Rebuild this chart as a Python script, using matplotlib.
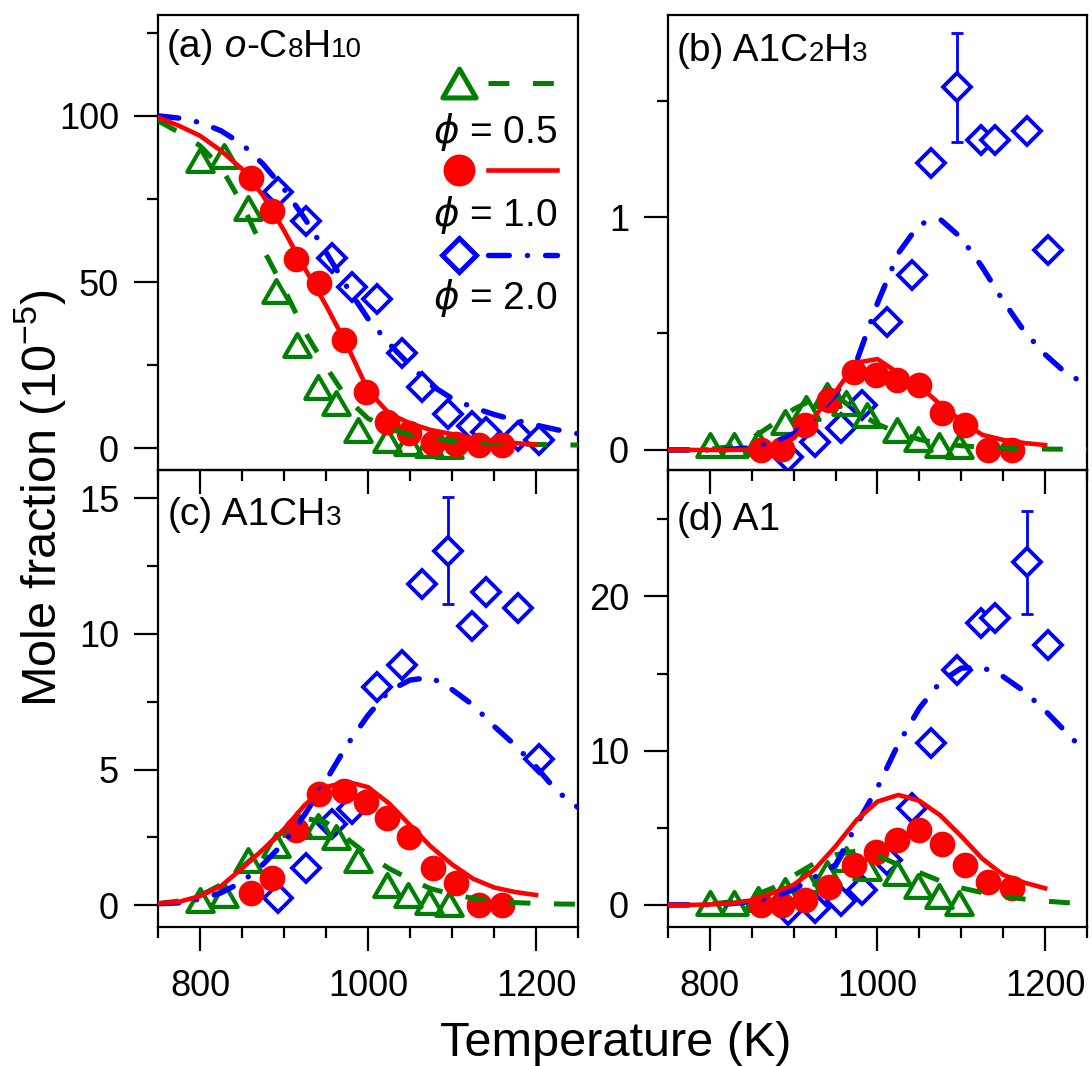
import matplotlib
matplotlib.use("Agg")
import matplotlib.pyplot as plt
from matplotlib.lines import Line2D
from matplotlib.path import Path
from matplotlib.legend import Legend
from matplotlib.legend_handler import HandlerBase
from matplotlib.offsetbox import TextArea, HPacker, AnchoredOffsetbox
from matplotlib.ticker import MultipleLocator, FormatStrFormatter

plt.rcParams['font.family'] = ['Liberation Sans', 'DejaVu Sans']
plt.rcParams['lines.scale_dashes'] = False
plt.rcParams['mathtext.fontset'] = 'dejavusans'

# ---------------- data ----------------
# measurement temperatures (K)
T_green = [800, 829, 857, 890, 915, 940, 962, 988, 1023, 1048, 1073, 1097]   # phi = 0.5
T_red = [861, 886, 914, 942, 972, 998, 1023, 1049, 1077, 1105, 1132, 1160]     # phi = 1.0
T_blue = [893, 926, 957, 981, 1011, 1041, 1064, 1095, 1124, 1140, 1178, 1203]  # phi = 2.0

# model temperatures (K)
T_model = [750, 775, 800, 825, 850, 875, 900, 925, 950, 975, 1000,
           1025, 1050, 1075, 1100, 1125, 1150, 1175, 1200, 1225, 1250]
T_model_red = [750, 775, 800, 825, 850, 875, 900, 925, 950, 975, 1000,
               1025, 1050, 1075, 1100, 1125, 1150, 1175, 1200]

# (a) o-C8H10
a_green = [86.8, 87.8, 72.3, 47.4, 31.2, 18.4, 13.5, 5.5, 2.4, 1.5, 0.9, 0.6]
a_red = [81.4, 71.4, 56.9, 49.6, 32.5, 17.0, 7.9, 4.6, 1.6, 1.4, 1.0, 1.0]
a_blue = [77.0, 68.4, 57.3, 48.5, 44.8, 28.6, 18.5, 10.3, 6.8, 4.8, 3.8, 2.5]
a_model_green = [98.5, 95.0, 91.0, 84.5, 73.5, 60.0, 48.0, 35.0, 24.5, 15.0, 9.0,
                 6.0, 4.0, 3.0, 2.3, 1.8, 1.5, 1.3, 1.2, 1.1, 1.0]
a_model_red = [99.5, 97.0, 94.0, 89.5, 84.0, 76.0, 65.5, 54.0, 43.0, 31.0, 17.5,
               10.5, 7.5, 5.5, 4.3, 3.0, 2.2, 1.6, 1.1]
a_model_blue = [100.0, 99.3, 98.0, 95.5, 91.5, 85.5, 78.0, 69.0, 59.0, 48.5, 39.0,
                31.5, 25.0, 19.0, 15.0, 12.3, 10.2, 8.5, 7.0, 5.6, 4.4]

# (b) A1C2H3
b_green = [0.02, 0.02, 0.03, 0.12, 0.18, 0.235, 0.2, 0.15, 0.085, 0.045, 0.02, 0.015]
b_red = [0.0, 0.005, 0.107, 0.215, 0.336, 0.322, 0.3, 0.279, 0.157, 0.107, 0.0, 0.0]
b_blue = [-0.03, 0.036, 0.093, 0.193, 0.55, 0.75, 1.23, 1.556, 1.33, 1.33, 1.37, 0.858]
b_model_green = [0.0, 0.0, 0.003, 0.015, 0.05, 0.11, 0.175, 0.22, 0.235, 0.165, 0.11,
                 0.075, 0.045, 0.028, 0.018, 0.012, 0.008, 0.005, 0.004, 0.003, 0.002]
b_model_red = [0.0, 0.0, 0.0, 0.0, 0.002, 0.008, 0.05, 0.145, 0.25, 0.375, 0.39,
               0.33, 0.275, 0.195, 0.125, 0.065, 0.043, 0.03, 0.021]
b_model_blue = [0.0, 0.0, 0.0, 0.003, 0.01, 0.03, 0.07, 0.14, 0.24, 0.38, 0.63,
                0.845, 0.97, 0.99, 0.91, 0.785, 0.64, 0.51, 0.41, 0.33, 0.28]

# (c) A1CH3
c_green = [0.18, 0.37, 1.66, 2.2, 3.0, 2.9, 2.5, 1.66, 0.75, 0.37, 0.1, 0.04]
c_red = [0.43, 0.98, 2.77, 4.1, 4.2, 3.81, 3.2, 2.5, 1.35, 0.8, 0.0, 0.0]
c_blue = [0.25, 1.35, 3.0, 3.55, 8.05, 8.85, 11.85, 13.07, 10.3, 11.54, 10.95, 5.4]
c_model_green = [0.05, 0.15, 0.35, 0.75, 1.4, 2.05, 2.75, 3.2, 3.05, 2.45, 1.85,
                 1.35, 0.95, 0.6, 0.4, 0.25, 0.15, 0.09, 0.06, 0.04, 0.03]
c_model_red = [0.06, 0.12, 0.33, 0.7, 1.35, 2.05, 2.8, 3.7, 4.35, 4.55, 4.35,
               3.75, 2.95, 2.15, 1.5, 0.97, 0.65, 0.48, 0.37]
c_model_blue = [0.05, 0.08, 0.22, 0.45, 0.85, 1.5, 2.3, 3.35, 4.6, 5.9, 7.0,
                7.9, 8.3, 8.4, 7.95, 7.38, 6.6, 5.9, 5.1, 4.2, 3.6]

# (d) A1
d_green = [0.1, 0.1, 0.4, 1.0, 1.6, 2.05, 3.0, 2.4, 2.05, 1.2, 0.55, 0.1]
d_red = [0.0, 0.0, 0.32, 1.18, 2.58, 3.44, 4.19, 4.84, 3.98, 2.58, 1.5, 1.08]
d_blue = [-0.3, -0.2, 0.25, 0.97, 2.9, 6.3, 10.5, 15.2, 18.26, 18.58, 22.2, 16.85]
d_model_green = [0.0, 0.01, 0.05, 0.2, 0.55, 1.1, 1.9, 2.7, 3.25, 3.5, 3.2,
                 2.6, 2.1, 1.55, 1.1, 0.8, 0.55, 0.38, 0.25, 0.15, 0.1]
d_model_red = [0.0, 0.0, 0.03, 0.1, 0.3, 0.78, 1.3, 2.3, 3.8, 5.5, 6.7,
               7.13, 6.75, 5.8, 4.45, 3.0, 1.95, 1.45, 1.08]
d_model_blue = [0.0, 0.0, 0.02, 0.08, 0.22, 0.5, 1.0, 1.8, 2.6, 5.2, 7.6,
                10.45, 12.75, 14.45, 15.35, 15.4, 14.8, 13.85, 12.6, 11.2, 9.8]

# error bars on one phi = 2.0 point per panel: (index into T_blue, half-width)
b_err = (7, 0.235)
c_err = (7, 1.97)
d_err = (10, 3.35)

legend_labels = [r'$\phi$ = 0.5', r'$\phi$ = 1.0', r'$\phi$ = 2.0']

# ---------------- style ----------------
GREEN = '#008000'
RED = '#ff0000'
BLUE = '#0000ff'
TRI = Path([(0, 0.866), (-1, -0.866), (1, -0.866), (0, 0.866)],
           [Path.MOVETO, Path.LINETO, Path.LINETO, Path.CLOSEPOLY])
GREEN_DASH = (0, (15, 17))
BLUE_DASHDOT = (0, (15, 13, 0.1, 13))
FS_TICK = 26
FS_TITLE = 28
FS_SUB = 20
FS_LABEL = 35

fig = plt.figure(figsize=(10.92, 10.66), dpi=100)

panels = [
    dict(key='a', pos=[0.1447, 0.5591, 0.3846, 0.4268], ylim=(-6.5, 130.3), major=50, minor=25,
         g=a_green, r=a_red, b=a_blue, mg=a_model_green, mr=a_model_red, mb=a_model_blue, err=None,
         title=[('(a)', FS_TITLE, 'normal'), (' o', FS_TITLE, 'italic'), ('-C', FS_TITLE, 'normal'),
                ('8', FS_SUB, 'normal'), ('H', FS_TITLE, 'normal'), ('10', FS_SUB, 'normal')],
         tpos=(0.021, 0.970)),
    dict(key='b', pos=[0.6117, 0.5591, 0.3837, 0.4268], ylim=(-0.086, 1.867), major=1, minor=0.5,
         g=b_green, r=b_red, b=b_blue, mg=b_model_green, mr=b_model_red, mb=b_model_blue, err=b_err,
         title=[('(b)', FS_TITLE, 'normal'), (' A1C', FS_TITLE, 'normal'), ('2', FS_SUB, 'normal'),
                ('H', FS_TITLE, 'normal'), ('3', FS_SUB, 'normal')],
         tpos=(0.021, 0.960)),
    dict(key='c', pos=[0.1447, 0.1304, 0.3846, 0.4287], ylim=(-0.81, 16.05), major=5, minor=2.5,
         g=c_green, r=c_red, b=c_blue, mg=c_model_green, mr=c_model_red, mb=c_model_blue, err=c_err,
         title=[('(c)', FS_TITLE, 'normal'), (' A1CH', FS_TITLE, 'normal'), ('3', FS_SUB, 'normal')],
         tpos=(0.024, 0.942)),
    dict(key='d', pos=[0.6117, 0.1304, 0.3837, 0.4287], ylim=(-1.43, 28.19), major=10, minor=5,
         g=d_green, r=d_red, b=d_blue, mg=d_model_green, mr=d_model_red, mb=d_model_blue, err=d_err,
         title=[('(d)', FS_TITLE, 'normal'), (' A1', FS_TITLE, 'normal')],
         tpos=(0.021, 0.931)),
]


class MarkerThenLine(HandlerBase):
    """Legend key: the marker on the left, a sample of the line on the right."""
    def __init__(self, mkw, lkw):
        super().__init__()
        self.mkw = mkw
        self.lkw = lkw

    def create_artists(self, legend, orig_handle, xdescent, ydescent, width, height, fontsize, trans):
        yc = height / 2 - ydescent
        ln = Line2D([0.425 * width - xdescent, width - xdescent], [yc, yc], marker='None', **self.lkw)
        mk = Line2D([0.183 * width - xdescent], [yc], linestyle='None', **self.mkw)
        ln.set_transform(trans)
        mk.set_transform(trans)
        return [ln, mk]


axes = {}
for p in panels:
    ax = fig.add_axes(p['pos'])
    axes[p['key']] = ax
    ax.set_facecolor('none')
    ax.set_xlim(750, 1250)
    ax.set_ylim(*p['ylim'])

    if p['err'] is not None:
        i, e = p['err']
        ax.errorbar([T_blue[i]], [p['b'][i]], yerr=[e], fmt='none', ecolor=BLUE,
                    elinewidth=2.0, capsize=4.5, capthick=2.0, zorder=2)
    ax.plot(T_blue, p['b'], linestyle='None', marker='D', markersize=14.3, mfc='white',
            mec=BLUE, mew=2.8, zorder=3)
    ax.plot(T_green, p['g'], linestyle='None', marker=TRI, markersize=19, mfc='none',
            mec=GREEN, mew=3.0, zorder=3.1)
    ax.plot(T_red, p['r'], linestyle='None', marker='o', markersize=18.5, mfc=RED,
            mec='none', zorder=3.2)
    ax.plot(T_model, p['mg'], color=GREEN, lw=3.6, linestyle=GREEN_DASH, zorder=4)
    ax.plot(T_model, p['mb'], color=BLUE, lw=3.9, linestyle=BLUE_DASHDOT,
            dash_capstyle='round', zorder=4.1)
    ax.plot(T_model_red, p['mr'], color=RED, lw=3.3, zorder=4.2)

    ax.xaxis.set_major_locator(MultipleLocator(200))
    ax.xaxis.set_minor_locator(MultipleLocator(50))
    ax.yaxis.set_major_locator(MultipleLocator(p['major']))
    ax.yaxis.set_minor_locator(MultipleLocator(p['minor']))
    ax.yaxis.set_major_formatter(FormatStrFormatter('%g'))
    ax.tick_params(which='both', direction='out', top=False, right=False, width=1.6)
    ax.tick_params(which='major', length=17, labelsize=FS_TICK)
    ax.tick_params(which='minor', length=8)
    ax.tick_params(axis='y', which='major', pad=11)
    ax.tick_params(axis='x', which='major', pad=13)
    if p['key'] in ('a', 'b'):
        ax.tick_params(axis='x', labelbottom=False)
    for sp in ax.spines.values():
        sp.set_linewidth(1.6)

    boxes = [TextArea(s, textprops=dict(fontsize=fs, fontstyle=st)) for s, fs, st in p['title']]
    pack = HPacker(children=boxes, align='baseline', pad=0, sep=0)
    anch = AnchoredOffsetbox(loc='upper left', child=pack, pad=0, borderpad=0, frameon=False,
                             bbox_to_anchor=p['tpos'], bbox_transform=ax.transAxes)
    ax.add_artist(anch)

# legend in panel (a)
ax = axes['a']
keys = [
    (dict(marker=TRI, markersize=24, mfc='none', mec=GREEN, mew=3.6),
     dict(color=GREEN, lw=3.6, linestyle=GREEN_DASH)),
    (dict(marker='o', markersize=23, mfc=RED, mec='none'),
     dict(color=RED, lw=3.3)),
    (dict(marker='D', markersize=17.5, mfc='white', mec=BLUE, mew=3.6),
     dict(color=BLUE, lw=3.9, linestyle=BLUE_DASHDOT, dash_capstyle='round')),
]
row_y = [0.848, 0.655, 0.470]
text_y = [0.743, 0.560, 0.378]
for (mkw, lkw), ry, ty, lab in zip(keys, row_y, text_y, legend_labels):
    dummy = Line2D([], [])
    leg = Legend(ax, [dummy], [''], loc='center', bbox_to_anchor=(0.807, ry),
                 handler_map={dummy: MarkerThenLine(mkw, lkw)}, frameon=False,
                 handlelength=4.32, handleheight=1.0, handletextpad=0, borderpad=0,
                 borderaxespad=0, fontsize=20)
    ax.add_artist(leg)
    ax.text(0.95, ty, lab, transform=ax.transAxes, ha='right', va='center', fontsize=FS_TITLE)

fig.text(0.037, 0.533, 'Mole fraction (10$^{\\mathregular{-5}}$)', rotation=90,
         ha='center', va='center', fontsize=FS_LABEL)
fig.text(0.564, 0.0097, 'Temperature (K)', ha='center', va='baseline', fontsize=FS_LABEL)

fig.savefig('out.png', dpi=100)
